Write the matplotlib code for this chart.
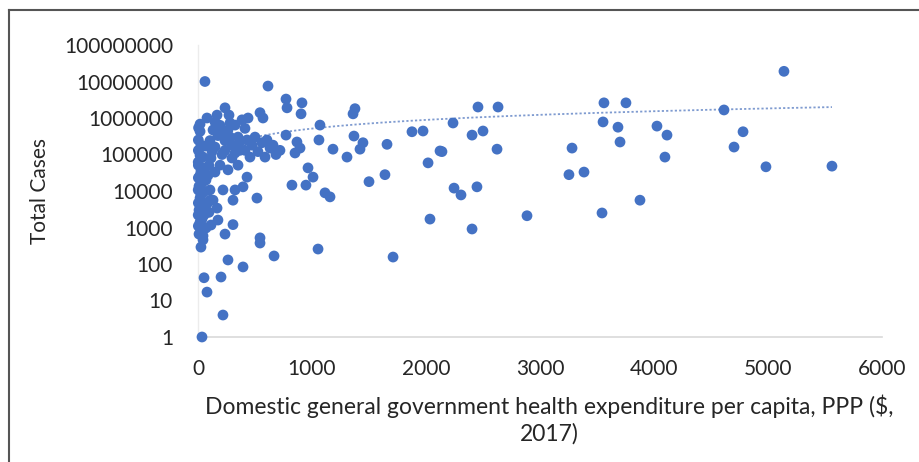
import numpy as np
import matplotlib
matplotlib.use("Agg")
import matplotlib.pyplot as plt
from matplotlib.lines import Line2D

# Domestic general government health expenditure per capita, PPP ($, 2017)
expenditure = [
    5140, 4614, 4781, 4702, 4982, 5561, 3754, 3561, 3553, 3684,
    3702, 4026, 4114, 4096, 3281, 3254, 3386, 3877, 3544, 2886,
    2456, 2632, 2237, 2404, 2500, 2623, 2140, 2246, 2307, 2447,
    2404, 1377, 1360, 1877, 1974, 1368, 1447, 1421, 1184, 1307,
    1658, 2123, 2018, 1640, 1500, 1158, 1114, 2035, 1711, 1053,
    667, 395, 263, 202, 53, 79, 219, 35, 544, 544,
    307, 237, 61, 614, 772, 781, 912, 904, 1070, 1061,
    772, 868, 895, 851, 824, 947, 965, 1009, 517, 272,
    281, 439, 544, 570, 149, 5, 18, 132,
    430, 500, 561, 632, 684, 526, 456, 368, 298, 237,
    175, 105, 61, 123, 211, 298, 18, 351, 263, 193,
    79, 18, 412,
    2, 44, 18, 70, 9, 53, 18, 79, 9, 53,
    18, 70, 9, 44, 26, 96, 105, 114,
    193, 351, 430, 395, 325, 219, 307, 132, 167, 175,
    263, 149,
    3, 26, 3, 44, 3, 26, 3, 35, 2, 26,
    3, 44, 2, 35, 3, 44, 96, 114, 88, 105,
    96,
    149, 237, 325, 412, 474, 605, 658, 719, 588, 368,
    281, 211, 325, 386, 167, 237,
]
# Total Cases
total_cases = [
    19000000, 1660000, 420000, 160000, 46000, 48000, 2600000, 2600000, 780000, 560000,
    220000, 600000, 340000, 85000, 150000, 28000, 33000, 5600, 2500, 2100,
    2000000, 2000000, 730000, 340000, 440000, 140000, 120000, 12000, 7800, 13000,
    910, 1800000, 1300000, 420000, 440000, 320000, 210000, 140000, 140000, 85000,
    190000, 125000, 59000, 28000, 18000, 6900, 8900, 1700, 155, 257,
    166, 83, 129, 44, 42, 17, 4, 1, 520, 375,
    1200, 660, 10000000, 7500000, 3300000, 1900000, 2600000, 1300000, 640000, 250000,
    340000, 220000, 150000, 110000, 14500, 14500, 43000, 24000, 6400, 1200000,
    730000, 1000000, 1400000, 1000000, 780000, 540000, 430000, 470000,
    250000, 300000, 210000, 150000, 100000, 120000, 85000, 130000, 180000, 240000,
    330000, 240000, 170000, 120000, 100000, 80000, 95000, 300000, 470000, 630000,
    1000000, 680000, 520000,
    62000, 43000, 27000, 20000, 13500, 9500, 6400, 4400, 3000, 2200,
    1400, 970, 660, 460, 290, 50000, 10700, 1170,
    51000, 51000, 24000, 13000, 10700, 10700, 5600, 5600, 3400, 1600,
    38000, 33000,
    250000, 180000, 130000, 85000, 51000, 35000, 23000, 16500, 10700, 7800,
    4700, 3400, 2200, 1700, 1100, 590, 180000, 80000, 27000, 5600,
    2600,
    160000, 130000, 110000, 130000, 180000, 250000, 180000, 130000, 85000, 220000,
    300000, 420000, 640000, 890000, 1200000, 1900000,
]

# power trendline y = a * x^b (Excel-style)
trend_a = 2190
trend_b = 0.79

x_ticks = [0, 1000, 2000, 3000, 4000, 5000, 6000]
y_ticks = [1, 10, 100, 1000, 10000, 100000, 1000000, 10000000, 100000000]
x_label = "Domestic general government health expenditure per capita, PPP ($,\n2017)"
y_label = "Total Cases"

plt.rcParams['font.family'] = ['Lato', 'DejaVu Sans']
text_color = '#262626'
blue = '#4472C4'

fig = plt.figure(figsize=(9.19, 4.62), dpi=100)
fig.patch.set_facecolor('white')
W, H = 919, 462
ax = fig.add_axes([198 / W, 1 - 337 / H, (882 - 198) / W, (337 - 45) / H])

x = np.array(expenditure, dtype=float)
y = np.array(total_cases, dtype=float)

xs = np.linspace(max(x[x > 0].min(), 20), x.max(), 300)
ax.plot(xs, trend_a * xs ** trend_b, linestyle=(0, (1.2, 1.2)), color='#7f9bd0',
        linewidth=1.3, zorder=2)
ax.scatter(x, y, s=60, color=blue, edgecolors='none', zorder=3, clip_on=False)

ax.set_yscale('log')
ax.set_xlim(0, 6000)
ax.set_ylim(1, 1e8)
ax.set_xticks(x_ticks)
ax.set_xticklabels([str(v) for v in x_ticks])
ax.set_yticks(y_ticks)
ax.set_yticklabels([str(v) for v in y_ticks])
ax.yaxis.set_minor_locator(matplotlib.ticker.NullLocator())
ax.tick_params(axis='both', length=0, labelsize=15, labelcolor=text_color)
ax.tick_params(axis='y', pad=18)
ax.tick_params(axis='x', pad=16)
for s in ['top', 'right']:
    ax.spines[s].set_visible(False)
ax.spines['bottom'].set_color('#d9d9d9')
ax.spines['bottom'].set_linewidth(1.2)
ax.spines['left'].set_color('#ececec')
ax.spines['left'].set_linewidth(1.0)

fig.text(549 / W, 1 - 394 / H, x_label, ha='center', va='top', fontsize=16.5,
         color=text_color, linespacing=1.3)
fig.text(40 / W, 1 - 191 / H, y_label, ha='center', va='center', rotation=90,
         fontsize=15, color=text_color)

# outer frame (top and left edges visible)
fig.add_artist(Line2D([9 / W, 1], [1 - 10 / H, 1 - 10 / H], color='#555555', linewidth=1.5))
fig.add_artist(Line2D([9 / W, 9 / W], [0, 1 - 10 / H], color='#555555', linewidth=1.5))

fig.savefig('out.png', dpi=100, facecolor='white')
